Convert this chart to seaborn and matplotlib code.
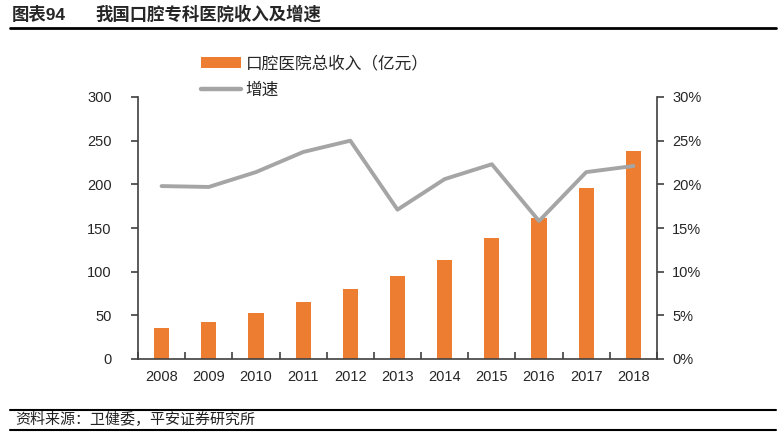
import numpy as np
import pandas as pd
import matplotlib
matplotlib.use("Agg")
import matplotlib.pyplot as plt
import seaborn as sns
from matplotlib.lines import Line2D
from matplotlib.patches import Patch
from matplotlib.ticker import FuncFormatter, MultipleLocator

years = ["2008", "2009", "2010", "2011", "2012", "2013", "2014", "2015", "2016", "2017", "2018"]
revenue = [35.5, 42.5, 52.5, 65.0, 80.0, 95.0, 113.5, 138.5, 161.5, 195.5, 238.0]
growth = [19.8, 19.7, 21.4, 23.7, 25.0, 17.1, 20.6, 22.3, 15.8, 21.4, 22.1]

bar_label = "口腔医院总收入（亿元）"
line_label = "增速"
title_a = "图表94"
title_b = "我国口腔专科医院收入及增速"
source = "资料来源：卫健委，平安证券研究所"

sns.set_style("white")
plt.rcParams['font.family'] = ['Liberation Sans', 'Noto Sans CJK SC', 'DejaVu Sans']

df = pd.DataFrame({"year": years, "revenue": revenue, "growth": growth})

fig = plt.figure(figsize=(7.81, 4.32), dpi=100)
ax = fig.add_axes([138/781, 1-359/432, (657-138)/781, (359-97)/432])

sns.barplot(data=df, x="year", y="revenue", color="#ED7D31", width=0.32, ax=ax,
            saturation=1, edgecolor="none")
ax.set_xlim(-0.5, len(years)-0.5)
ax.set_ylim(0, 300)
ax.yaxis.set_major_locator(MultipleLocator(50))
ax.set_xlabel("")
ax.set_ylabel("")

ax2 = ax.twinx()
sns.lineplot(x=np.arange(len(years)), y=df["growth"].values, ax=ax2, color="#A5A5A5",
             linewidth=2.8)
ax2.set_ylim(0, 30)
ax2.yaxis.set_major_locator(MultipleLocator(5))
ax2.yaxis.set_major_formatter(FuncFormatter(lambda v, p: f"{int(round(v))}%"))
ax2.set_xlim(-0.5, len(years)-0.5)

for a in (ax, ax2):
    a.spines["top"].set_visible(False)
    for s in ("left", "right", "bottom"):
        a.spines[s].set_color("#404040")
        a.spines[s].set_linewidth(1.2)
ax.spines["right"].set_visible(False)
ax2.spines["left"].set_visible(False)
ax2.spines["bottom"].set_visible(False)

ax.tick_params(axis="y", direction="out", length=5, width=1.2, color="#404040",
               labelsize=10.5, pad=14, left=True)
ax2.tick_params(axis="y", direction="out", length=5, width=1.2, color="#404040",
                labelsize=10.5, pad=6, right=True)
ax.tick_params(axis="x", length=0, labelsize=10.5, pad=8)
ax.set_xticks(np.arange(len(years)))
ax.set_xticklabels(years)
ax.set_xticks(np.arange(len(years)+1) - 0.5, minor=True)
ax.tick_params(axis="x", which="minor", direction="in", length=5, width=1.2,
               color="#404040", bottom=True)

handles = [Patch(facecolor="#ED7D31", edgecolor="none", label=bar_label),
           Line2D([0], [0], color="#A5A5A5", linewidth=3.2, label=line_label)]
fig.legend(handles=handles, loc="upper left", bbox_to_anchor=(194/781, 1-49/432),
           frameon=False, fontsize=12, handlelength=2.4, handleheight=0.6,
           labelspacing=0.62, handletextpad=0.3, borderaxespad=0)

fig.text(12/781, 1-14/432, title_a, fontsize=12.5, fontweight="bold", va="center", ha="left")
fig.text(95/781, 1-14/432, title_b, fontsize=12.5, fontweight="bold", va="center", ha="left")
fig.add_artist(Line2D([10/781, 776/781], [1-28/432, 1-28/432], color="black", linewidth=2))
fig.add_artist(Line2D([10/781, 776/781], [1-410/432, 1-410/432], color="black", linewidth=1.5))
fig.add_artist(Line2D([10/781, 776/781], [1-430/432, 1-430/432], color="black", linewidth=1.5))
fig.text(15/781, 1-420/432, source, fontsize=10.8, style="italic", va="center", ha="left",
         color="#222222")

fig.savefig("out.png", dpi=100)
